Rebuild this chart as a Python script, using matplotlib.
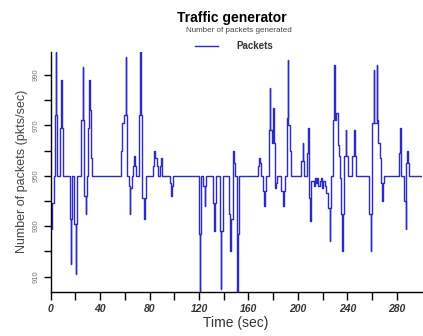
import matplotlib
matplotlib.use('Agg')
import matplotlib.pyplot as plt
from matplotlib.ticker import FixedLocator

plt.rcParams['font.family'] = 'Liberation Sans'

# packet rate: each value holds from its start time until the next one
start_time = [0.0, 1.0, 2.3, 3.2, 4.1, 4.5, 5.4, 7.3, 8.1, 8.9, 9.7,
              15.3, 16.0, 16.5, 17.2, 18.9, 20.2, 20.7, 21.6,
              24.8, 25.7, 26.1, 26.9, 28.2, 28.8, 29.4,
              30.2, 31.1, 31.6, 32.6, 33.4,
              57.1, 57.9, 58.9, 60.7, 61.1, 62.0, 63.0, 63.9, 64.5, 65.4,
              66.9, 67.6, 68.5, 69.3, 71.4, 72.6, 73.0, 74.2, 75.8, 76.4, 77.2,
              82.8, 83.8, 84.6, 85.6, 86.5, 88.2, 89.0, 89.8,
              96.5, 97.3, 98.3, 99.3,
              119.6, 120.6, 121.0, 121.9, 123.5, 124.4, 124.9, 125.8,
              131.0, 132.0, 132.5, 133.6, 136.6, 137.7, 138.1, 139.2,
              144.3, 145.4, 145.8, 147.6, 148.1, 149.0, 150.3, 151.1, 151.5, 152.4,
              167.7, 168.8, 169.6, 170.4, 171.5, 172.9, 173.4, 174.5,
              176.4, 177.4, 177.8, 179.0, 179.9, 180.4, 181.2, 182.0, 182.8,
              186.6, 187.9, 188.4, 189.4, 190.9, 191.9, 192.3, 193.4, 194.4,
              202.7, 203.8, 204.3, 205.2, 207.6, 208.5, 209.0, 209.9, 210.4,
              211.6, 212.6, 213.6, 214.6, 215.6, 216.6, 217.6, 218.6, 219.6, 220.6, 221.6,
              222.9, 224.5, 225.6, 226.1, 227.0, 228.1, 229.2, 229.6, 231.0,
              232.1, 232.9, 234.0, 235.1, 235.6, 236.1, 237.2, 238.5, 239.0, 240.2,
              244.0, 245.3, 245.8, 246.8,
              257.8, 258.8, 259.2, 260.3, 261.4, 261.8, 263.6, 264.0, 265.0,
              266.0, 267.0, 268.1, 268.6, 269.6,
              281.5, 282.5, 283.0, 283.8, 286.1, 287.2, 287.7, 288.6, 289.2, 290.2,
              300.0]
packets = [929, 939, 950, 974, 999, 974, 950, 969, 988, 969, 950,
           933, 915, 933, 950, 931, 911, 931, 950,
           972, 993, 972, 942, 935, 942, 950,
           969, 988, 976, 957, 950,
           960, 971, 974, 997, 974, 950, 946, 935, 945, 950,
           954, 958, 954, 950, 974, 999, 974, 941, 933, 941, 950,
           954, 960, 957, 954, 950, 954, 957, 950,
           947, 942, 946, 950,
           927, 904, 927, 950, 946, 938, 946, 950,
           939, 928, 939, 950, 928, 905, 928, 950,
           935, 920, 933, 960, 955, 950, 927, 904, 927, 950,
           954, 957, 955, 950, 944, 938, 944, 950,
           968, 985, 968, 963, 977, 963, 945, 947, 950,
           944, 938, 944, 950, 973, 996, 970, 960, 950,
           956, 963, 956, 950, 959, 969, 941, 932, 948,
           948, 946, 949, 947, 949, 946, 948, 949, 945, 948, 946,
           943, 937, 924, 937, 950, 972, 994, 972, 975,
           962, 958, 949, 935, 920, 935, 958, 968, 958, 950,
           958, 968, 958, 950,
           935, 920, 935, 971, 992, 971, 994, 972, 963,
           957, 947, 940, 947, 950,
           959, 969, 959, 950, 940, 929, 955, 960, 955, 950,
           950]

x_ticks = [0, 40, 80, 120, 160, 200, 240, 280]
y_ticks = [910, 930, 950, 970, 990]

fig = plt.figure(figsize=(4.23, 3.36), dpi=100)
ax = fig.add_axes([0.120, 0.132, 0.8765, 0.714])

ax.step(start_time, packets, where='post', color='#2b2bc2', lw=1.0, label='Packets')

ax.set_xlim(0, 300)
ax.set_ylim(904, 999.2)

ax.xaxis.set_major_locator(FixedLocator(x_ticks))
ax.xaxis.set_minor_locator(FixedLocator(range(20, 300, 40)))
ax.yaxis.set_major_locator(FixedLocator(y_ticks))
ax.yaxis.set_minor_locator(FixedLocator(range(920, 1000, 20)))

ax.set_xticklabels([str(t) for t in x_ticks], fontsize=7.5, style='italic',
                   weight='bold', color='#333333')
ax.set_yticklabels([str(t) for t in y_ticks], fontsize=5.5, rotation=90,
                   va='center', color='#777777')
ax.tick_params(axis='x', which='both', direction='out', length=6, width=1, pad=3)
ax.tick_params(axis='y', which='both', direction='out', length=5, width=1, pad=3)

for side in ['top', 'right']:
    ax.spines[side].set_visible(False)
for side in ['left', 'bottom']:
    ax.spines[side].set_linewidth(1.0)

ax.set_xlabel('Time (sec)', fontsize=10, color='#333333')
ax.xaxis.set_label_coords(0.5, -0.10)
ax.set_ylabel('Number of packets (pkts/sec)', fontsize=9, color='#444444')
ax.yaxis.set_label_coords(-0.062, 0.5)

fig.text(0.548, 0.946, 'Traffic generator', ha='center', va='center',
         fontsize=10, weight='bold')
fig.text(0.565, 0.908, 'Number of packets generated', ha='center', va='center',
         fontsize=5.8, color='#444444')
ax.legend(loc='center', bbox_to_anchor=(0.553, 0.863), bbox_transform=fig.transFigure,
          frameon=False, prop={'size': 7, 'weight': 'bold'}, labelcolor='#333333',
          handlelength=2.4, handletextpad=1.8)

fig.savefig('out.png', dpi=100)
